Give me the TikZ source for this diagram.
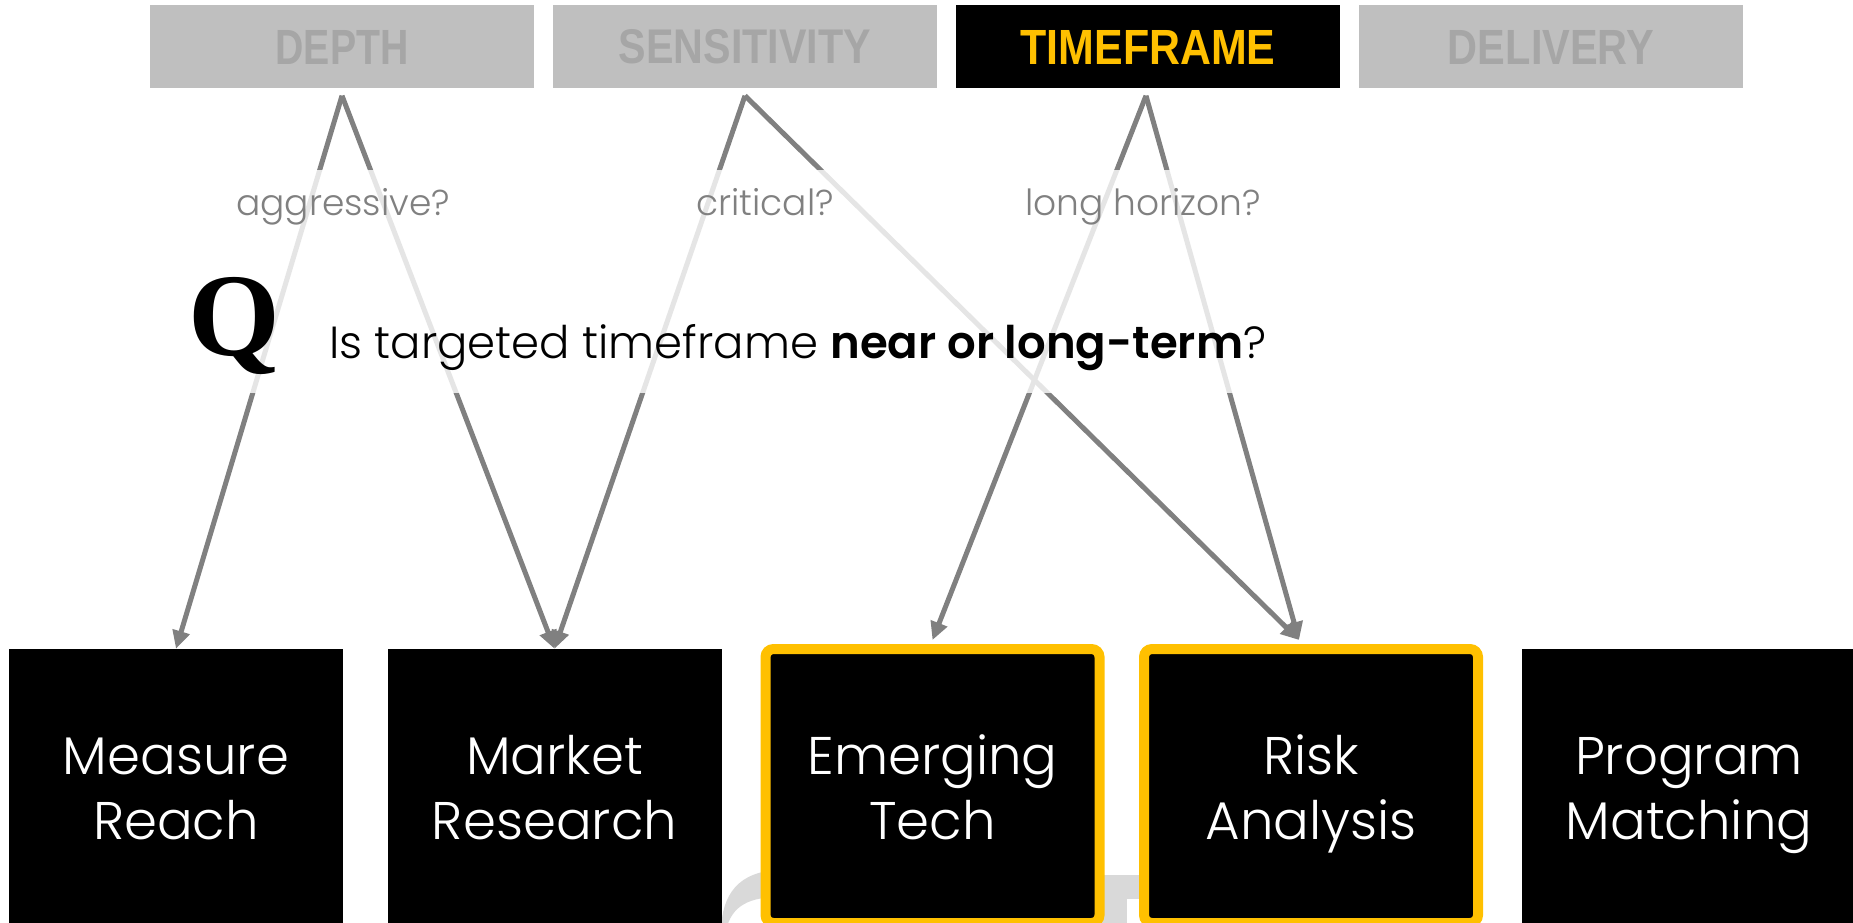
\documentclass[tikz,border=0pt]{standalone}
\usepackage{fontspec}
\usepackage{graphicx}
\newfontfamily\lightf{Poppins Light}
\newfontfamily\boldf{Poppins SemiBold}
\newfontfamily\hdf{Liberation Sans}
\newfontfamily\qf{Liberation Serif}
\usetikzlibrary{arrows.meta,calc}
\definecolor{hdgray}{HTML}{BFBFBF}
\definecolor{hdtext}{HTML}{A6A6A6}
\definecolor{lgray}{HTML}{808080}
\definecolor{gold}{HTML}{FFC000}
\definecolor{wmgray}{HTML}{D9D9D9}
\newcommand{\hdtxt}[2]{\resizebox{#2}{34pt}{\hdf\bfseries #1}}
\begin{document}
\begin{tikzpicture}[x=1pt,y=-1pt,
  hd/.style={minimum width=384pt, minimum height=83pt, inner sep=0pt, fill=hdgray, text=hdtext},
  hdon/.style={hd, fill=black, text=gold},
  bx/.style={minimum width=334pt, minimum height=274pt, inner sep=0pt, fill=black},
  hl/.style={bx, draw=gold, line width=10pt, rounded corners=8pt},
  bxt/.style={inner sep=0pt, text=white, align=center, font=\lightf\fontsize{53}{65}\selectfont},
  ln/.style={draw=lgray, line width=5pt, -{Triangle[length=18pt,width=17pt]}},
  lbl/.style={text=lgray, inner sep=0pt, anchor=base, font=\lightf\fontsize{36}{40}\selectfont},
  wm/.style={fill=wmgray}]
\useasboundingbox (0,0) rectangle (1853,923);
\clip (0,0) rectangle (1853,923);
% watermark fragments
\fill[wm] (721,930) .. controls (722,895) and (738,871) .. (780,870) -- (780,897)
  .. controls (750,897) and (732,905) .. (726,930) -- cycle;
\fill[wm] (1090,875) rectangle (1150,899);
\fill[wm] (1090,875) rectangle (1127,930);
% top boxes
\node[hd] (depth) at (342,47) {\hdtxt{DEPTH}{133pt}};
\node[hd] (sens) at (745,47) {\hdtxt{SENSITIVITY}{252pt}};
\node[hdon] (time) at (1148,47) {\hdtxt{TIMEFRAME}{255pt}};
\node[hd] (deliv) at (1551,47) {\hdtxt{DELIVERY}{206pt}};
% bottom boxes
\node[bx] (mr) at (176,786) {};
\node[bx] (mk) at (554.5,786) {};
\node[hl] (et) at (932.5,786) {};
\node[hl] (ra) at (1311,786) {};
\node[bx] (pm) at (1689,786) {};
\node[bxt] (mrT) at (176,793.5) {\strut Measure\\\strut Reach};
\node[bxt] (mkT) at (554.5,793.5) {\strut Market\\\strut Research};
\node[bxt] (etT) at (932.5,793.5) {\strut Emerging\\\strut Tech};
\node[bxt] (raT) at (1311,793.5) {\strut Risk\\\strut Analysis};
\node[bxt] (pmT) at (1689,793.5) {\strut Program\\\strut Matching};
% connector ends
\coordinate (dA) at ($(depth.south)+(0,7)$);
\coordinate (sA) at ($(sens.south)+(0,7)$);
\coordinate (tA) at ($(time.south)+(-2,7)$);
\coordinate (etTip) at ($(et.north)+(0,-4)$);
\coordinate (raTip) at ($(ra.north)+(-12,-4)$);
% connectors
\draw[ln] (dA) -- (mr.north);
\draw[ln] (dA) -- (mk.north);
\draw[ln] (sA) -- (mk.north);
\draw[ln] (sA) -- (raTip);
\draw[ln] (tA) -- (etTip);
\draw[ln] (tA) -- (raTip);
% fading band
\fill[white, opacity=0.8] (0,170) rectangle (1853,393);
% labels
\node[lbl] (l1) at (343,215) {aggressive?};
\node[lbl] (l2) at (765,215) {critical?};
\node[lbl] (l3) at (1143,215) {long horizon?};
% question
\node[anchor=base, inner sep=0pt, font=\qf\bfseries\fontsize{118}{120}\selectfont] (q) at (234.5,355) {Q};
\node[anchor=base west, inner sep=0pt, font=\lightf\fontsize{45}{55}\selectfont] (qt) at (329,358)
  {Is targeted timeframe {\boldf near or long-term}?};
\end{tikzpicture}
\end{document}
